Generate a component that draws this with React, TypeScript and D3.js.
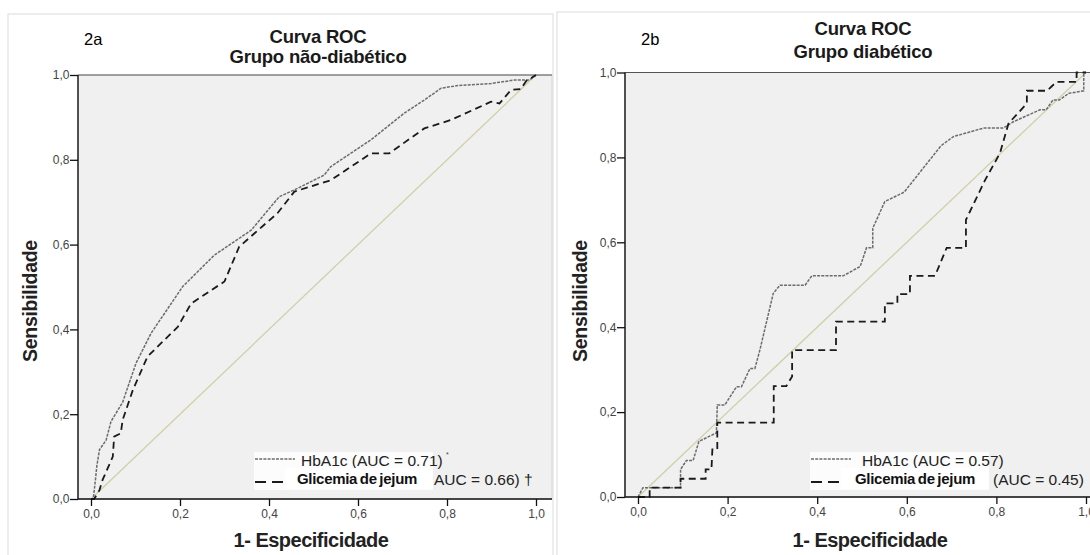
import React, { useEffect, useRef } from "react";
import * as d3 from "d3";

// ROC curves: [1 - especificidade, sensibilidade]
const hba1cNaoDiab: [number, number][] = [
  [0, 0], [0.005, 0], [0.01, 0.045], [0.013, 0.077], [0.019, 0.116], [0.034, 0.139],
  [0.045, 0.183], [0.071, 0.228], [0.101, 0.32], [0.135, 0.391], [0.206, 0.501],
  [0.277, 0.575], [0.36, 0.634], [0.423, 0.713], [0.457, 0.729], [0.524, 0.764],
  [0.539, 0.784], [0.629, 0.847], [0.704, 0.91], [0.749, 0.941], [0.787, 0.969],
  [0.824, 0.975], [0.899, 0.98], [0.951, 0.988], [0.985, 0.988], [1, 1],
];
const glicNaoDiab: [number, number][] = [
  [0, 0], [0.007, 0], [0.019, 0.021], [0.026, 0.045], [0.049, 0.1], [0.052, 0.147],
  [0.067, 0.155], [0.071, 0.186], [0.094, 0.257], [0.127, 0.336], [0.195, 0.406],
  [0.225, 0.461], [0.3, 0.513], [0.333, 0.595], [0.419, 0.674], [0.457, 0.725],
  [0.539, 0.752], [0.629, 0.815], [0.67, 0.815], [0.749, 0.874], [0.809, 0.894],
  [0.899, 0.937], [0.918, 0.933], [0.944, 0.965], [0.966, 0.967], [0.978, 0.986], [1, 1],
];
const hba1cDiab: [number, number][] = [
  [0, 0], [0.011, 0.022], [0.095, 0.022], [0.095, 0.065], [0.108, 0.086], [0.123, 0.086],
  [0.136, 0.131], [0.175, 0.151], [0.177, 0.217], [0.194, 0.217], [0.22, 0.26],
  [0.231, 0.26], [0.25, 0.303], [0.261, 0.303], [0.272, 0.346], [0.302, 0.48],
  [0.317, 0.499], [0.373, 0.499], [0.388, 0.521], [0.458, 0.521], [0.496, 0.543],
  [0.51, 0.587], [0.524, 0.587], [0.524, 0.633], [0.551, 0.696], [0.594, 0.718],
  [0.676, 0.827], [0.704, 0.849], [0.771, 0.869], [0.815, 0.869], [0.838, 0.884],
  [0.897, 0.912], [0.911, 0.912], [0.926, 0.935], [0.94, 0.935], [0.962, 0.951],
  [0.995, 0.957], [0.995, 1], [1, 1],
];
const glicDiab: [number, number][] = [
  [0, 0], [0.026, 0], [0.026, 0.022], [0.095, 0.022], [0.095, 0.043], [0.151, 0.043],
  [0.151, 0.065], [0.164, 0.065], [0.166, 0.112], [0.177, 0.112], [0.177, 0.175],
  [0.303, 0.175], [0.303, 0.261], [0.331, 0.261], [0.344, 0.284], [0.344, 0.346],
  [0.442, 0.346], [0.442, 0.413], [0.551, 0.413], [0.551, 0.456], [0.579, 0.456],
  [0.579, 0.478], [0.607, 0.478], [0.607, 0.521], [0.663, 0.521], [0.689, 0.587],
  [0.732, 0.587], [0.732, 0.653], [0.775, 0.747], [0.808, 0.81], [0.827, 0.88],
  [0.868, 0.927], [0.868, 0.957], [0.913, 0.957], [0.934, 0.978], [0.979, 0.978],
  [0.979, 1], [1, 1],
];

const ticks = [0, 0.2, 0.4, 0.6, 0.8, 1.0];
const panelLabels = ["2a", "2b"];
const titles = ["Curva ROC", "Curva ROC"];
const subtitles = ["Grupo não-diabético", "Grupo diabético"];
const hbaLegend = ["HbA1c (AUC = 0.71)", "HbA1c (AUC = 0.57)"];
const glicName = "Glicemia de jejum";
const glicAuc = ["AUC = 0.66) †", "(AUC = 0.45)"];
const xTitle = "1- Especificidade";
const yTitle = "Sensibilidade";

const FONT = "'Liberation Sans', Arial, sans-serif";
const GRAY = "#6c6c6c";

const panels = [
  {
    hba: hba1cNaoDiab, glic: glicNaoDiab,
    frame: [8, 14, 545, 560], left: 78, right: 552, x0: 91, x1: 536, top: 75, bottom: 499,
    titleX: 318, t1y: 43, t2y: 63, labX: 84, labY: 45, yTitleX: 37, xTitleX: 311,
    leg: { x: 254, textX: 301, row1: 466, row2: 484, boxX: 285, boxW: 148, glicX: 297, aucX: 434, star: true },
  },
  {
    hba: hba1cDiab, glic: glicDiab,
    frame: [557, 12, 545, 560], left: 625, right: 1100, x0: 638, x1: 1086, top: 72.5, bottom: 497,
    titleX: 863, t1y: 35, t2y: 58, labX: 641, labY: 45, yTitleX: 587, xTitleX: 870,
    leg: { x: 810, textX: 862, row1: 466, row2: 484, boxX: 841, boxW: 148, glicX: 855, aucX: 993, star: false },
  },
];

const fmt = (d: number) => d3.format(".1f")(d).replace(".", ",");

const App = () => {
  const ref = useRef<SVGSVGElement>(null);

  useEffect(() => {
    const svg = d3.select(ref.current);
    svg.selectAll("*").remove();

    panels.forEach((p, i) => {
      const g = svg.append("g");
      g.append("rect")
        .attr("x", p.frame[0]).attr("y", p.frame[1])
        .attr("width", p.frame[2]).attr("height", p.frame[3])
        .attr("fill", "#fff").attr("stroke", "#dcdcdc");

      const x = d3.scaleLinear().domain([0, 1]).range([p.x0, p.x1]);
      const y = d3.scaleLinear().domain([0, 1]).range([p.bottom, p.top]);

      g.append("rect")
        .attr("x", p.left).attr("y", p.top)
        .attr("width", p.right - p.left).attr("height", p.bottom - p.top)
        .attr("fill", "#f0f0f0").attr("stroke", "#cfcfcf").attr("stroke-width", 0.8);
      g.append("line")
        .attr("x1", p.left).attr("x2", p.right).attr("y1", p.top).attr("y2", p.top)
        .attr("stroke", "#555").attr("stroke-width", 1.2);

      // reference diagonal
      g.append("line")
        .attr("x1", x(0)).attr("y1", y(0)).attr("x2", x(1)).attr("y2", y(1))
        .attr("stroke", "#cfd0a6").attr("stroke-width", 1.3);

      const line = d3.line<[number, number]>().x((d) => x(d[0])).y((d) => y(d[1]));
      g.append("path").datum(p.hba).attr("d", line)
        .attr("fill", "none").attr("stroke", GRAY).attr("stroke-width", 1.5)
        .attr("stroke-dasharray", "3,1.2");
      g.append("path").datum(p.glic).attr("d", line)
        .attr("fill", "none").attr("stroke", "#1a1a1a").attr("stroke-width", 1.8)
        .attr("stroke-dasharray", "7,4.5");

      // axes
      const ya = g.append("g").attr("transform", `translate(${p.left},0)`)
        .call(d3.axisLeft(y).tickValues(ticks).tickFormat(fmt).tickSize(8).tickSizeOuter(0));
      const xa = g.append("g").attr("transform", `translate(0,${p.bottom})`)
        .call(d3.axisBottom(x).tickValues(ticks).tickFormat(fmt).tickSize(7).tickSizeOuter(0));
      [ya, xa].forEach((a) => {
        a.select(".domain").remove();
        a.selectAll("line").attr("stroke", "#111").attr("stroke-width", 1.3);
        a.selectAll("text").attr("font-family", FONT).attr("font-size", 12).attr("fill", "#444");
      });
      ya.selectAll("text").attr("x", -8.5);
      xa.selectAll("text").attr("y", 10);
      g.append("line")
        .attr("x1", p.left).attr("x2", p.left).attr("y1", p.top).attr("y2", p.bottom)
        .attr("stroke", "#111").attr("stroke-width", 1.4);
      g.append("line")
        .attr("x1", p.left).attr("x2", p.right).attr("y1", p.bottom).attr("y2", p.bottom)
        .attr("stroke", "#111").attr("stroke-width", 1.4);

      // legend
      const L = p.leg;
      g.append("rect").attr("x", L.x).attr("y", 452).attr("width", L.boxX + L.boxW - L.x)
        .attr("height", 38).attr("fill", "#fcfcfc");
      g.append("line").attr("x1", L.x + 1).attr("x2", L.x + 41).attr("y1", L.row1 - 7).attr("y2", L.row1 - 7)
        .attr("stroke", GRAY).attr("stroke-width", 1.5).attr("stroke-dasharray", "3,1.2");
      g.append("text").attr("x", L.textX).attr("y", L.row1).text(hbaLegend[i])
        .attr("font-family", FONT).attr("font-size", 15.5).attr("fill", "#222");
      if (L.star) {
        g.append("text").attr("x", L.textX + 145).attr("y", L.row1 - 9).text("*")
          .attr("font-family", FONT).attr("font-size", 7).attr("fill", "#444");
      }
      g.append("line").attr("x1", L.x + 1).attr("x2", L.x + 29).attr("y1", L.row2 - 2).attr("y2", L.row2 - 2)
        .attr("stroke", "#1a1a1a").attr("stroke-width", 1.8).attr("stroke-dasharray", "11,6");
      g.append("rect").attr("x", L.boxX).attr("y", 468).attr("width", L.boxW).attr("height", 21)
        .attr("fill", "#fff");
      g.append("text").attr("x", L.glicX).attr("y", L.row2).text(glicName)
        .attr("font-family", FONT).attr("font-size", 15).attr("font-weight", "bold")
        .attr("letter-spacing", -0.3).attr("word-spacing", -1.2).attr("fill", "#111");
      g.append("text").attr("x", L.aucX).attr("y", L.row2 + 1).text(glicAuc[i])
        .attr("font-family", FONT).attr("font-size", 15.5).attr("fill", "#222");

      // titles
      g.append("text").attr("x", p.labX).attr("y", p.labY).text(panelLabels[i])
        .attr("font-family", FONT).attr("font-size", 16.5).attr("fill", "#000");
      g.append("text").attr("x", p.titleX).attr("y", p.t1y).attr("text-anchor", "middle").text(titles[i])
        .attr("font-family", FONT).attr("font-size", 18.5).attr("font-weight", "bold")
        .attr("letter-spacing", -0.2).attr("fill", "#1a1a1a");
      g.append("text").attr("x", p.titleX).attr("y", p.t2y).attr("text-anchor", "middle").text(subtitles[i])
        .attr("font-family", FONT).attr("font-size", 18.5).attr("font-weight", "bold")
        .attr("letter-spacing", -0.2).attr("fill", "#1a1a1a");
      g.append("text").attr("x", p.xTitleX).attr("y", 547).attr("text-anchor", "middle").text(xTitle)
        .attr("font-family", FONT).attr("font-size", 20).attr("font-weight", "bold")
        .attr("letter-spacing", -0.5).attr("fill", "#222");
      g.append("text").attr("transform", `translate(${p.yTitleX},301) rotate(-90)`)
        .attr("text-anchor", "middle").text(yTitle)
        .attr("font-family", FONT).attr("font-size", 19.5).attr("font-weight", "bold")
        .attr("letter-spacing", -0.3).attr("fill", "#222");
    });
  }, []);

  return (
    <svg ref={ref} width={1090} height={555}
      style={{ position: "absolute", left: 0, top: 0, background: "#fff" }} />
  );
};

export default App;
